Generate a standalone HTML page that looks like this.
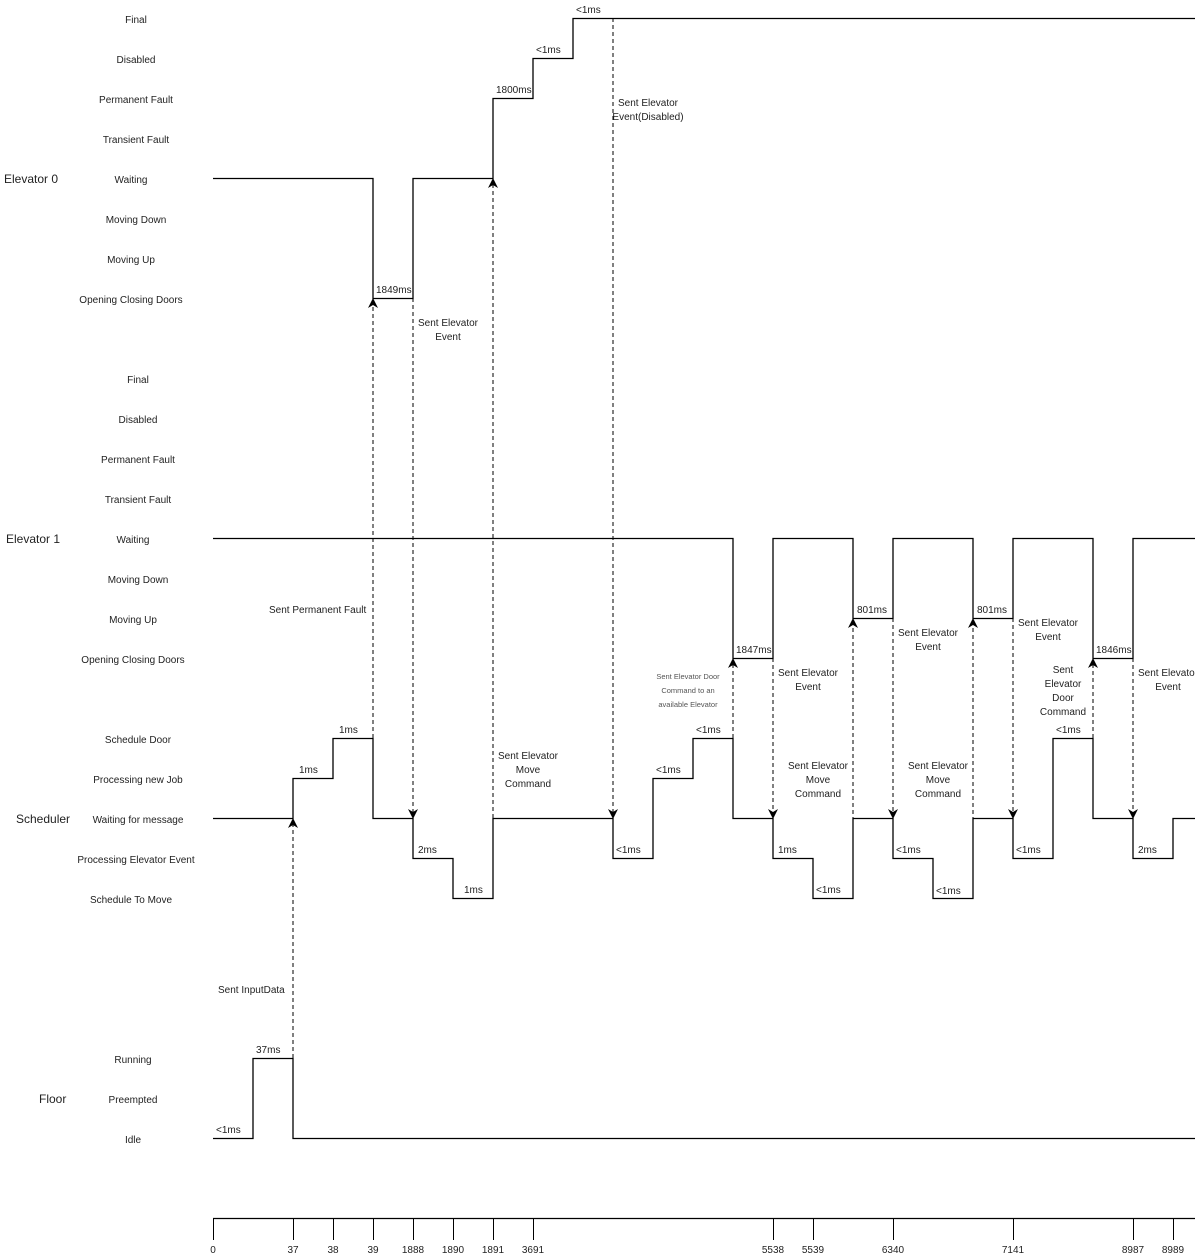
<!DOCTYPE html>
<html><head><meta charset="utf-8"><style>
html,body{margin:0;padding:0;background:#fff;}
svg{display:block;}
text{font-family:"Liberation Sans",Arial,sans-serif;font-size:10px;fill:#222;}
.g{font-size:12px;}
.m{text-anchor:middle;}
.s{font-size:7.5px;fill:#555;}
</style></head><body>
<svg width="1195" height="1257" viewBox="0 0 1195 1257" xmlns="http://www.w3.org/2000/svg">
<defs>
<marker id="d" viewBox="0 0 10 10" markerWidth="10" markerHeight="10" refX="5" refY="9" orient="0" markerUnits="userSpaceOnUse"><path d="M0,0 L5,10 L10,0 L5,3 Z" fill="#000"/></marker>
<marker id="u" viewBox="0 0 10 10" markerWidth="10" markerHeight="10" refX="5" refY="1" orient="0" markerUnits="userSpaceOnUse"><path d="M0,10 L5,0 L10,10 L5,7 Z" fill="#000"/></marker></defs>

<text class="g" x="4" y="183">Elevator 0</text>
<text class="g" x="6" y="543">Elevator 1</text>
<text class="g" x="16" y="823">Scheduler</text>
<text class="g" x="39" y="1103">Floor</text>

<g>
<text class="m" x="136" y="23">Final</text>
<text class="m" x="136" y="63">Disabled</text>
<text class="m" x="136" y="103">Permanent Fault</text>
<text class="m" x="136" y="143">Transient Fault</text>
<text class="m" x="131" y="183">Waiting</text>
<text class="m" x="136" y="223">Moving Down</text>
<text class="m" x="131" y="263">Moving Up</text>
<text class="m" x="131" y="303">Opening Closing Doors</text>
<text class="m" x="138" y="383">Final</text>
<text class="m" x="138" y="423">Disabled</text>
<text class="m" x="138" y="463">Permanent Fault</text>
<text class="m" x="138" y="503">Transient Fault</text>
<text class="m" x="133" y="543">Waiting</text>
<text class="m" x="138" y="583">Moving Down</text>
<text class="m" x="133" y="623">Moving Up</text>
<text class="m" x="133" y="663">Opening Closing Doors</text>
<text class="m" x="138" y="743">Schedule Door</text>
<text class="m" x="138" y="783">Processing new Job</text>
<text class="m" x="138" y="823">Waiting for message</text>
<text class="m" x="136" y="863">Processing Elevator Event</text>
<text class="m" x="131" y="903">Schedule To Move</text>
<text class="m" x="133" y="1063">Running</text>
<text class="m" x="133" y="1103">Preempted</text>
<text class="m" x="133" y="1143">Idle</text>
</g>

<g fill="none" stroke="#000" stroke-width="1.3">
<polyline points="213,178.5 373,178.5 373,298.5 413,298.5 413,178.5 493,178.5 493,98.5 533,98.5 533,58.5 573,58.5 573,18.5 1195,18.5"/>
<polyline points="213,538.5 733,538.5 733,658.5 773,658.5 773,538.5 853,538.5 853,618.5 893,618.5 893,538.5 973,538.5 973,618.5 1013,618.5 1013,538.5 1093,538.5 1093,658.5 1133,658.5 1133,538.5 1195,538.5"/>
<polyline points="213,818.5 293,818.5 293,778.5 333,778.5 333,738.5 373,738.5 373,818.5 413,818.5 413,858.5 453,858.5 453,898.5 493,898.5 493,818.5 613,818.5 613,858.5 653,858.5 653,778.5 693,778.5 693,738.5 733,738.5 733,818.5 773,818.5 773,858.5 813,858.5 813,898.5 853,898.5 853,818.5 893,818.5 893,858.5 933,858.5 933,898.5 973,898.5 973,818.5 1013,818.5 1013,858.5 1053,858.5 1053,738.5 1093,738.5 1093,818.5 1133,818.5 1133,858.5 1173,858.5 1173,818.5 1195,818.5"/>
<polyline points="213,1138.5 253,1138.5 253,1058.5 293,1058.5 293,1138.5 1195,1138.5"/>
</g>

<g fill="none" stroke="#000" stroke-width="1" stroke-dasharray="4,3">
<line x1="293" y1="1058" x2="293" y2="819" marker-end="url(#u)"/>
<line x1="373" y1="738" x2="373" y2="299" marker-end="url(#u)"/>
<line x1="413" y1="298" x2="413" y2="818" marker-end="url(#d)"/>
<line x1="493" y1="818" x2="493" y2="179" marker-end="url(#u)"/>
<line x1="613" y1="18" x2="613" y2="818" marker-end="url(#d)"/>
<line x1="733" y1="738" x2="733" y2="659" marker-end="url(#u)"/>
<line x1="773" y1="658" x2="773" y2="818" marker-end="url(#d)"/>
<line x1="853" y1="898" x2="853" y2="619" marker-end="url(#u)"/>
<line x1="893" y1="618" x2="893" y2="818" marker-end="url(#d)"/>
<line x1="973" y1="898" x2="973" y2="619" marker-end="url(#u)"/>
<line x1="1013" y1="618" x2="1013" y2="818" marker-end="url(#d)"/>
<line x1="1093" y1="738" x2="1093" y2="659" marker-end="url(#u)"/>
<line x1="1133" y1="658" x2="1133" y2="818" marker-end="url(#d)"/>
</g>

<text x="576" y="13">&lt;1ms</text>
<text x="536" y="53">&lt;1ms</text>
<text x="496" y="93">1800ms</text>
<text x="376" y="293">1849ms</text>
<text x="736" y="653">1847ms</text>
<text x="857" y="613">801ms</text>
<text x="977" y="613">801ms</text>
<text x="1096" y="653">1846ms</text>
<text x="339" y="733">1ms</text>
<text x="299" y="773">1ms</text>
<text x="418" y="853">2ms</text>
<text x="464" y="893">1ms</text>
<text x="616" y="853">&lt;1ms</text>
<text x="656" y="773">&lt;1ms</text>
<text x="696" y="733">&lt;1ms</text>
<text x="778" y="853">1ms</text>
<text x="816" y="893">&lt;1ms</text>
<text x="896" y="853">&lt;1ms</text>
<text x="936" y="894">&lt;1ms</text>
<text x="1016" y="853">&lt;1ms</text>
<text x="1056" y="733">&lt;1ms</text>
<text x="1138" y="853">2ms</text>
<text x="256" y="1053">37ms</text>
<text x="216" y="1133">&lt;1ms</text>

<text class="m" x="648" y="106">Sent Elevator</text>
<text class="m" x="648" y="120">Event(Disabled)</text>
<text class="m" x="448" y="326">Sent Elevator</text>
<text class="m" x="448" y="340">Event</text>
<text x="269" y="613">Sent Permanent Fault</text>
<text class="m" x="528" y="759">Sent Elevator</text>
<text class="m" x="528" y="773">Move</text>
<text class="m" x="528" y="787">Command</text>
<text class="m s" x="688" y="679">Sent Elevator Door</text>
<text class="m s" x="688" y="693">Command to an</text>
<text class="m s" x="688" y="707">available Elevator</text>
<text class="m" x="808" y="676">Sent Elevator</text>
<text class="m" x="808" y="690">Event</text>
<text class="m" x="818" y="769">Sent Elevator</text>
<text class="m" x="818" y="783">Move</text>
<text class="m" x="818" y="797">Command</text>
<text class="m" x="928" y="636">Sent Elevator</text>
<text class="m" x="928" y="650">Event</text>
<text class="m" x="938" y="769">Sent Elevator</text>
<text class="m" x="938" y="783">Move</text>
<text class="m" x="938" y="797">Command</text>
<text class="m" x="1048" y="626">Sent Elevator</text>
<text class="m" x="1048" y="640">Event</text>
<text class="m" x="1063" y="673">Sent</text>
<text class="m" x="1063" y="687">Elevator</text>
<text class="m" x="1063" y="701">Door</text>
<text class="m" x="1063" y="715">Command</text>
<text x="1138" y="676">Sent Elevator</text>
<text class="m" x="1168" y="690">Event</text>
<text x="218" y="993">Sent InputData</text>

<g stroke="#000" stroke-width="1">
<line x1="213" y1="1218.5" x2="1195" y2="1218.5" stroke-width="1.3"/>
<line x1="213.5" y1="1218" x2="213.5" y2="1240"/>
<line x1="293.5" y1="1218" x2="293.5" y2="1240"/>
<line x1="333.5" y1="1218" x2="333.5" y2="1240"/>
<line x1="373.5" y1="1218" x2="373.5" y2="1240"/>
<line x1="413.5" y1="1218" x2="413.5" y2="1240"/>
<line x1="453.5" y1="1218" x2="453.5" y2="1240"/>
<line x1="493.5" y1="1218" x2="493.5" y2="1240"/>
<line x1="533.5" y1="1218" x2="533.5" y2="1240"/>
<line x1="773.5" y1="1218" x2="773.5" y2="1240"/>
<line x1="813.5" y1="1218" x2="813.5" y2="1240"/>
<line x1="893.5" y1="1218" x2="893.5" y2="1240"/>
<line x1="1013.5" y1="1218" x2="1013.5" y2="1240"/>
<line x1="1133.5" y1="1218" x2="1133.5" y2="1240"/>
<line x1="1173.5" y1="1218" x2="1173.5" y2="1240"/>
</g>
<g style="font-size:9px">
<text class="m" x="213" y="1253">0</text>
<text class="m" x="293" y="1253">37</text>
<text class="m" x="333" y="1253">38</text>
<text class="m" x="373" y="1253">39</text>
<text class="m" x="413" y="1253">1888</text>
<text class="m" x="453" y="1253">1890</text>
<text class="m" x="493" y="1253">1891</text>
<text class="m" x="533" y="1253">3691</text>
<text class="m" x="773" y="1253">5538</text>
<text class="m" x="813" y="1253">5539</text>
<text class="m" x="893" y="1253">6340</text>
<text class="m" x="1013" y="1253">7141</text>
<text class="m" x="1133" y="1253">8987</text>
<text class="m" x="1173" y="1253">8989</text>
</g>
</svg>
</body></html>
